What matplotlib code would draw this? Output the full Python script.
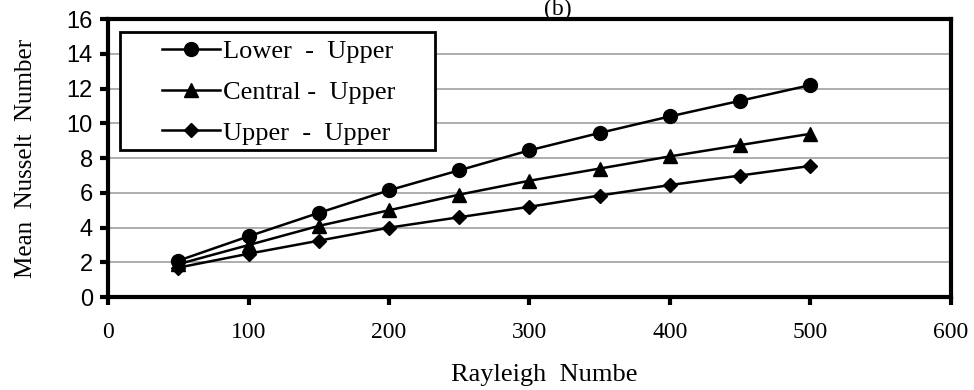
import matplotlib.pyplot as plt
from matplotlib.patches import Rectangle

# Rayleigh number values
rayleigh = [50, 100, 150, 200, 250, 300, 350, 400, 450, 500]

# mean Nusselt number for each heater arrangement
lower_upper = [2.1, 3.5, 4.85, 6.15, 7.3, 8.45, 9.45, 10.4, 11.3, 12.2]
central_upper = [1.9, 3.0, 4.1, 5.0, 5.9, 6.7, 7.4, 8.1, 8.75, 9.4]
upper_upper = [1.7, 2.5, 3.25, 4.0, 4.6, 5.2, 5.85, 6.45, 7.0, 7.55]

xticks = [0, 100, 200, 300, 400, 500, 600]
yticks = [0, 2, 4, 6, 8, 10, 12, 14, 16]

serif = ['Liberation Serif', 'DejaVu Serif']
sans = ['Liberation Sans', 'DejaVu Sans']

fig = plt.figure(figsize=(9.74, 3.9), dpi=100)
ax = fig.add_axes([0.111, 0.238, 0.865, 0.713])

ax.plot(rayleigh, lower_upper, color='black', lw=1.8, marker='o', ms=10, label='Lower  -  Upper')
ax.plot(rayleigh, central_upper, color='black', lw=1.8, marker='^', ms=10, label='Central -  Upper')
ax.plot(rayleigh, upper_upper, color='black', lw=1.8, marker='D', ms=7.5, label='Upper  -  Upper')

ax.set_xlim(0, 600)
ax.set_ylim(0, 16)
ax.set_xticks(xticks)
ax.set_yticks(yticks)
ax.yaxis.grid(True, color='#a0a0a0', lw=1.2)
ax.set_axisbelow(True)

for s in ax.spines.values():
    s.set_linewidth(3)
ax.tick_params(axis='both', direction='out', width=3, length=6, color='black')
ax.tick_params(axis='x', pad=12)
ax.tick_params(axis='y', pad=5)
for lbl in ax.get_xticklabels():
    lbl.set_family(serif)
    lbl.set_fontsize(17)
for lbl in ax.get_yticklabels():
    lbl.set_family(sans)
    lbl.set_fontsize(17)

ax.set_xlabel('Rayleigh  Numbe', family=serif, fontsize=19)
ax.xaxis.set_label_coords(0.518, -0.24)
ax.set_ylabel('Mean  Nusselt  Number', family=serif, fontsize=18)
ax.yaxis.set_label_coords(-0.085, 0.5)
ax.text(320, 15.97, '(b)', family=serif, fontsize=17, ha='center', va='bottom')

# legend box drawn separately so it can be wider than the entries
ax.add_patch(Rectangle((0.014, 0.529), 0.374, 0.424, transform=ax.transAxes,
                       facecolor='white', edgecolor='black', lw=2, zorder=4))
leg = ax.legend(loc='upper left', bbox_to_anchor=(0.064, 0.925), prop={'family': serif, 'size': 19},
                frameon=False, handlelength=2.2, labelspacing=0.65,
                borderpad=0, handletextpad=0.1, borderaxespad=0)
leg.set_zorder(5)

plt.savefig('out.png', dpi=100)
